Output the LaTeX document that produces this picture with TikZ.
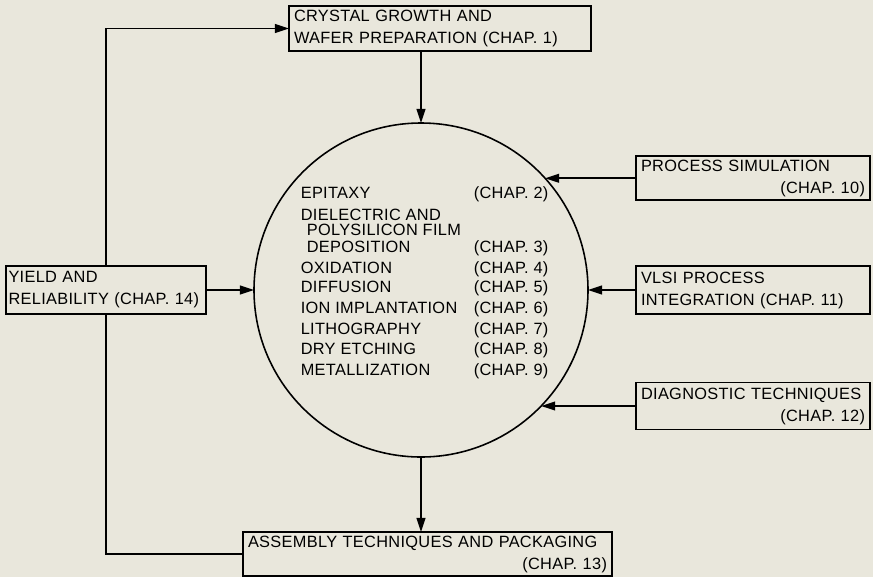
\documentclass[tikz,border=0pt]{standalone}
\usepackage{fontspec}
\setmainfont{Liberation Sans}[LetterSpace=2]
\usetikzlibrary{arrows.meta}
\definecolor{paper}{RGB}{233,231,220}

\begin{document}
\begin{tikzpicture}[>={Triangle[length=8pt,width=5pt]}, line width=0.9pt,
    every node/.style={font=\fontsize{9.3}{12.5}\selectfont},
    chapbox/.style={draw, inner xsep=0.1cm, inner ysep=0pt, outer sep=0pt, align=left}]
  \fill[paper] (0,0) rectangle (17.46,-11.54);
  \useasboundingbox (0,0) rectangle (17.46,-11.54);
  \coordinate (lcol) at (2.12,0);
  \coordinate (rcol) at (15.06,0);
  \node[draw, circle, minimum size=6.68cm, inner sep=0pt, outer sep=0pt] (proc) at (8.42,-5.8) {};
  \node[anchor=north west, inner sep=0pt, font=\fontsize{9.3}{8.5}\selectfont] (steps) at (6.0,-3.71) {%
    \begin{tabular}{@{}p{3.46cm}@{}l@{}}
      EPITAXY & (CHAP. 2)\\[3.4pt]
      DIELECTRIC AND & \\
      \hspace*{0.12cm}POLYSILICON FILM & \\
      \hspace*{0.12cm}DEPOSITION & (CHAP. 3)\\[2.6pt]
      OXIDATION & (CHAP. 4)\\[2pt]
      DIFFUSION & (CHAP. 5)\\[2.6pt]
      ION IMPLANTATION & (CHAP. 6)\\[2.3pt]
      LITHOGRAPHY & (CHAP. 7)\\[2.3pt]
      DRY ETCHING & (CHAP. 8)\\[2.6pt]
      METALLIZATION & (CHAP. 9)
    \end{tabular}};
  \node[chapbox, text width=5.84cm, minimum height=0.9cm] (crystal) at (8.8,-0.57)
    {CRYSTAL GROWTH AND\\WAFER PREPARATION (CHAP. 1)};
  \node[chapbox, text width=4.48cm, minimum height=0.88cm] (sim) at (proc.42.6 -| rcol)
    {PROCESS SIMULATION\\\hspace*{\fill}(CHAP. 10)};
  \node[chapbox, text width=4.48cm, minimum height=0.96cm] (vlsi) at (proc.0 -| rcol)
    {VLSI PROCESS\\INTEGRATION (CHAP. 11)};
  \node[chapbox, text width=4.48cm, minimum height=0.94cm] (diag) at (proc.-44.5 -| rcol)
    {DIAGNOSTIC TECHNIQUES\\\hspace*{\fill}(CHAP. 12)};
  \node[chapbox, text width=7.18cm, minimum height=0.88cm] (assembly) at (8.55,-11.08)
    {ASSEMBLY TECHNIQUES AND PACKAGING\\\hspace*{\fill}(CHAP. 13)};
  \node[chapbox, inner xsep=0.05cm, text width=3.9cm, minimum height=0.96cm] (yield) at (proc.180 -| lcol)
    {YIELD AND\\RELIABILITY (CHAP. 14)};
  \draw[->] (crystal.south -| proc.north) -- (proc.north);
  \draw[->] (proc.south) -- (proc.south |- assembly.north);
  \draw[->] (sim.west) -- (proc.42.6);
  \draw[->] (vlsi.west) -- (proc.0);
  \draw[->] (diag.west) -- (proc.-44.5);
  \draw[->] (yield.east) -- (proc.180);
  \draw[->] (yield.north) |- (crystal.west);
  \draw (yield.south) |- (assembly.west);
\end{tikzpicture}
\end{document}
